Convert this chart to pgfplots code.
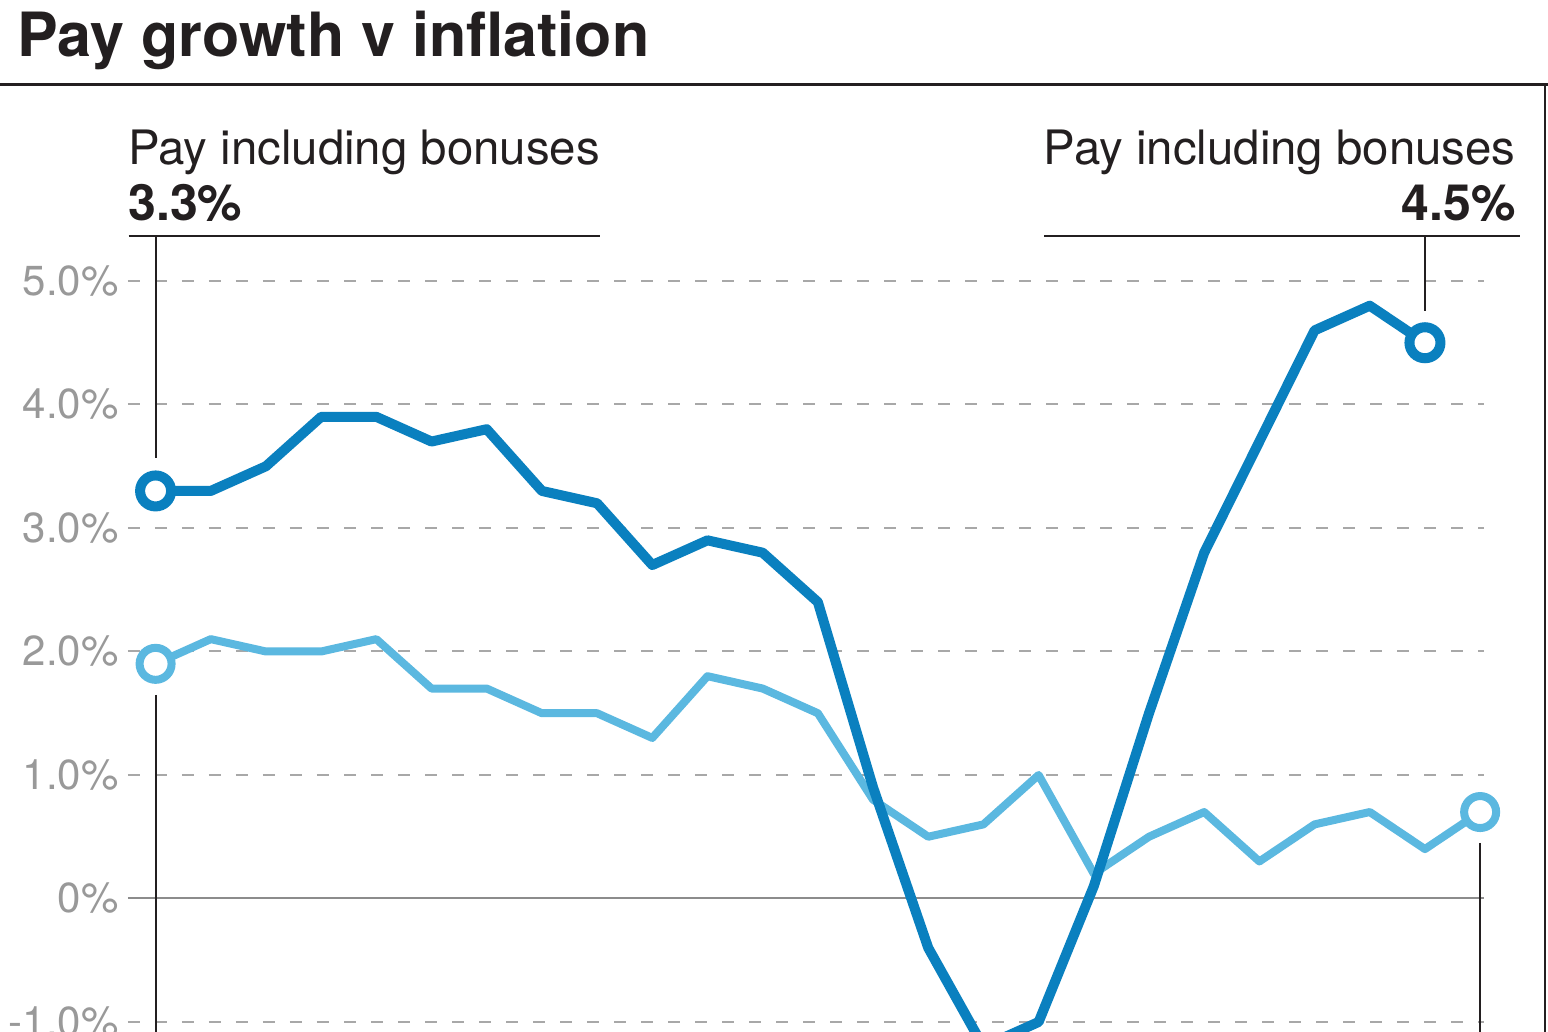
\documentclass[border=0pt]{standalone}
\usepackage{fontspec}
\setmainfont{TeX Gyre Heros}
\usepackage{pgfplots}
\pgfplotsset{compat=1.18}

\definecolor{darkblue}{HTML}{0A80BF}
\definecolor{lightblue}{HTML}{5BB8E0}
\definecolor{gridgray}{HTML}{A8A8A8}
\definecolor{zerogray}{HTML}{8C8C8C}
\definecolor{labelgray}{HTML}{999999}
\definecolor{ink}{HTML}{231F20}

\begin{document}
\begin{tikzpicture}[x=0.5pt,y=0.5pt]
  \useasboundingbox (0,0) rectangle (1548,1032);
  \clip (0,0) rectangle (1548,1032);
  \fill[white] (0,0) rectangle (1548,1032);
  % --- title and frame ---
  \node[anchor=base west, inner sep=0pt, text=ink,
        font=\fontsize{30.5}{36}\selectfont\bfseries] at (17,975) {Pay growth v inflation};
  \draw[ink, line width=1.5pt] (0,947.5) -- (1548,947.5);
  \draw[ink, line width=1pt] (1545,947.5) -- (1545,0);

  \begin{axis}[
    at={(64pt,0pt)}, anchor=south west,
    scale only axis, width=678pt, height=375.5pt,
    xmin=-0.5, xmax=24.07, ymin=-1.081, ymax=5,
    clip=false,
    axis line style={draw=none},
    xtick=\empty,
    ytick={-1,1,2,3,4,5},
    yticklabels={-1.0\%,1.0\%,2.0\%,3.0\%,4.0\%,5.0\%},
    extra y ticks={0}, extra y tick labels={0\%},
    extra y tick style={grid style={solid, draw=zerogray, line width=1pt}},
    ymajorgrids,
    grid style={dash pattern=on 6pt off 7.5pt, draw=gridgray, line width=1pt},
    major tick length=0pt,
    yticklabel style={font=\fontsize{21}{24}\selectfont, text=labelgray,
                      inner sep=0pt, xshift=-4.5pt},
  ]
  % --- inflation (light) ---
  \addplot[lightblue, line width=4pt, line join=round] coordinates {
    (0,1.9) (1,2.1) (2,2.0) (3,2.0) (4,2.1) (5,1.7) (6,1.7) (7,1.5) (8,1.5)
    (9,1.3) (10,1.8) (11,1.7) (12,1.5) (13,0.8) (14,0.5) (15,0.6) (16,1.0)
    (17,0.2) (18,0.5) (19,0.7) (20,0.3) (21,0.6) (22,0.7) (23,0.4) (24,0.7)
  };
  % --- pay including bonuses (dark) ---
  \addplot[darkblue, line width=5pt, line join=round] coordinates {
    (0,3.3) (1,3.3) (2,3.5) (3,3.9) (4,3.9) (5,3.7) (6,3.8) (7,3.3) (8,3.2)
    (9,2.7) (10,2.9) (11,2.8) (12,2.4) (13,0.9) (14,-0.4) (15,-1.2) (16,-1.0)
    (17,0.1) (18,1.5) (19,2.8) (20,3.7) (21,4.6) (22,4.8) (23,4.5)
  };
  % --- end markers ---
  \addplot[only marks, mark=*, mark size=8pt,
    mark options={fill=white, draw=lightblue, line width=4pt}]
    coordinates {(0,1.9) (24,0.7)};
  \addplot[only marks, mark=*, mark size=7.75pt,
    mark options={fill=white, draw=darkblue, line width=5pt}]
    coordinates {(0,3.3) (23,4.5)};
  % --- annotation leaders ---
  \draw[ink, line width=1pt] (axis cs:-0.49,5.364) -- (axis cs:8.06,5.364);
  \draw[ink, line width=1pt] (axis cs:0,5.364) -- (axis cs:0,3.567);
  \draw[ink, line width=1pt] (axis cs:16.1,5.364) -- (axis cs:24.72,5.364);
  \draw[ink, line width=1pt] (axis cs:23,5.364) -- (axis cs:23,4.757);
  \draw[ink, line width=1pt] (axis cs:0,1.648) -- (axis cs:0,-1.3);
  \draw[ink, line width=1pt] (axis cs:24,0.45) -- (axis cs:24,-1.3);
  \end{axis}

  % --- annotation texts ---
  \node[anchor=base west, inner sep=0pt, text=ink, font=\fontsize{23.7}{28}\selectfont]
    at (128,867) {Pay including bonuses};
  \node[anchor=base west, inner sep=0pt, text=ink, font=\fontsize{25}{30}\selectfont\bfseries]
    at (128,811) {3.3\%};
  \node[anchor=base east, inner sep=0pt, text=ink, font=\fontsize{23.7}{28}\selectfont]
    at (1516,867) {Pay including bonuses};
  \node[anchor=base east, inner sep=0pt, text=ink, font=\fontsize{25}{30}\selectfont\bfseries]
    at (1516,811) {4.5\%};
\end{tikzpicture}
\end{document}
